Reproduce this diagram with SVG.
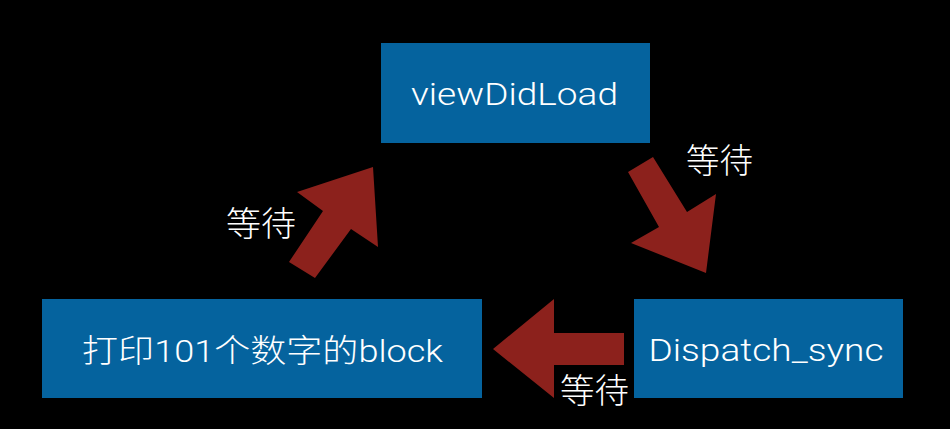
<svg xmlns="http://www.w3.org/2000/svg" width="950" height="429" viewBox="0 0 950 429">
<style>
.box{fill:#05639e}
.arr{fill:#8c211c}
.t{fill:#ffffff;font-family:Roboto,"Noto Sans CJK SC","Liberation Sans",sans-serif;font-weight:300;font-size:32px;text-anchor:middle}
.lbl{fill:#ffffff;font-family:"Noto Sans CJK SC","Liberation Sans",sans-serif;font-weight:300;font-size:34px}
</style>
<rect width="950" height="429" fill="#000000"/>
<g id="connectors">
<polygon class="arr" points="289,262 323,211 297,192 373,167 378,247 351,229 315,278"/>
<polygon class="arr" points="628,172 653,157 687,212 716,194 706,273 631,243 659,227"/>
<polygon class="arr" points="493,349 554,299 554,333 624,333 624,365 554,365 554,398"/>
</g>
<g id="node-viewDidLoad">
<rect class="box" x="381" y="43" width="269" height="100"/>
<text class="t" x="514.5" y="105" textLength="207" lengthAdjust="spacingAndGlyphs">viewDidLoad</text>
</g>
<g id="node-dispatch">
<rect class="box" x="634" y="299" width="269" height="99"/>
<text class="t" x="766" y="361" textLength="235" lengthAdjust="spacingAndGlyphs">Dispatch_sync</text>
</g>
<g id="node-block">
<rect class="box" x="42" y="299" width="440" height="99"/>
<text class="t" x="262.5" y="362" textLength="361" lengthAdjust="spacingAndGlyphs">打印101个数字的block</text>
</g>
<g id="labels">
<text class="lbl" x="226" y="236" textLength="70" lengthAdjust="spacingAndGlyphs">等待</text>
<text class="lbl" x="686" y="173" textLength="67" lengthAdjust="spacingAndGlyphs">等待</text>
<text class="lbl" x="560" y="403" textLength="69" lengthAdjust="spacingAndGlyphs">等待</text>
</g>
</svg>
